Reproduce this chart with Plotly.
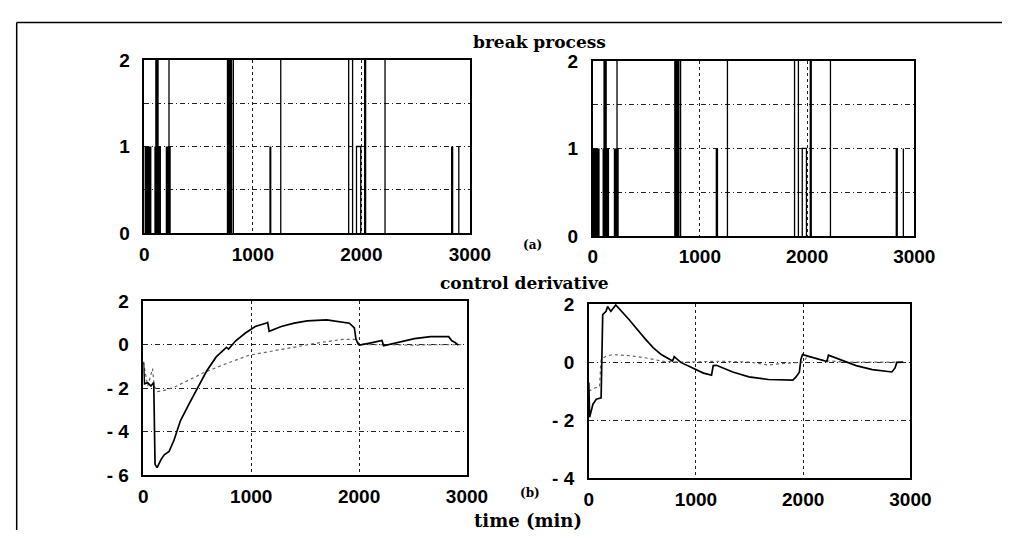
import plotly.graph_objects as go

W, H = 1023, 541

# ---------------- data ----------------
# break process: dense bursts of breaks (start, end, level)
burst_start = [0, 92, 100, 197, 760, 1155, 2024, 2826]
burst_end = [65, 153, 132, 243, 810, 1170, 2045, 2847]
burst_level = [1, 1, 2, 1, 2, 1, 2, 1]
# isolated single breaks (time, level)
spike_time = [227, 820, 1257, 1883, 1919, 2218, 2898]
spike_level = [2, 2, 2, 2, 2, 2, 1]
# sustained pulse (start, end, level)
pulse_start = [1955]
pulse_end = [1994]
pulse_level = [1]

x_ticks = [0, 1000, 2000, 3000]

# control derivative, left panel
left_solid_t = [0, 10, 40, 70, 96, 108, 127, 163, 193, 238, 283, 343, 419, 494, 585, 675, 750, 770, 790,
                856, 946, 1037, 1142, 1152, 1166, 1278, 1398, 1519, 1700, 1790, 1910, 1956, 1971, 1992,
                2005, 2122, 2212, 2227, 2363, 2513, 2664, 2830, 2860, 2890, 2920]
left_solid_y = [-0.78, -1.8, -1.75, -1.9, -1.74, -5.5, -5.65, -5.28, -5.06, -4.91, -4.4, -3.5, -2.77, -2.04,
                -1.22, -0.56, -0.19, -0.12, -0.2, 0.18, 0.54, 0.84, 1.0, 1.02, 0.62, 0.84, 0.99, 1.1, 1.14,
                1.09, 0.99, 0.77, 0.25, 0.03, -0.02, 0.1, 0.2, -0.05, 0.1, 0.28, 0.37, 0.37, 0.18, 0.1, -0.02]
left_dash_t = [0, 40, 85, 100, 130, 193, 283, 434, 554, 735, 976, 1218, 1459, 1640, 1851, 1971, 2000,
               2100, 2300, 2500, 2700, 2900, 2950]
left_dash_y = [-0.8, -1.9, -1.1, -1.9, -2.15, -2.1, -1.96, -1.6, -1.3, -0.93, -0.49, -0.27, -0.04, 0.1,
               0.25, 0.25, 0.05, 0.0, 0.0, -0.02, 0.0, 0.02, 0.0]

# control derivative, right panel
right_solid_t = [0, 8, 39, 70, 115, 130, 161, 176, 206, 252, 373, 450, 524, 600, 676, 782, 797, 858, 979,
                 1070, 1145, 1161, 1191, 1343, 1494, 1676, 1903, 1933, 1964, 1979, 1994, 2040, 2161, 2221,
                 2236, 2343, 2494, 2645, 2827, 2857, 2873, 2933]
right_solid_y = [-0.7, -1.9, -1.45, -1.28, -1.23, 1.64, 1.75, 1.92, 1.75, 1.97, 1.48, 1.12, 0.81, 0.5, 0.26,
                 0.04, 0.19, -0.01, -0.23, -0.38, -0.45, -0.12, -0.11, -0.34, -0.51, -0.6, -0.62, -0.51,
                 -0.35, 0.1, 0.26, 0.21, 0.1, 0.02, 0.24, 0.1, -0.12, -0.26, -0.34, -0.2, -0.01, 0.0]
right_dash_t = [0, 50, 100, 115, 161, 221, 388, 524, 706, 900, 1200, 1500, 1676, 1800, 2000, 2040, 2200,
                2400, 2900]
right_dash_y = [-1.0, -0.9, -0.85, 0.1, 0.2, 0.26, 0.22, 0.15, 0.02, 0.0, 0.03, 0.0, -0.1, -0.05, 0.0, 0.2,
                0.05, 0.0, 0.0]

# ---------------- figure ----------------
fig = go.Figure()


def px_dom(a, b, total, flip=False):
    if flip:
        return [1 - b / total, 1 - a / total]
    return [a / total, b / total]


panels = {
    1: dict(x=(143, 477), y=(52, 232)),
    2: dict(x=(603, 933), y=(53, 235)),
    3: dict(x=(142, 474), y=(303, 484)),
    4: dict(x=(599, 929), y=(306, 487)),
}


def ax_name(kind, i):
    return kind if i == 1 else f"{kind}{i}"


def ref(kind, i):
    return kind[0] if i == 1 else f"{kind[0]}{i}"


# break-process traces in panels 1 and 2
for i in (1, 2):
    xr, yr = ref("x", i), ref("y", i)
    fig.add_trace(go.Bar(
        x=[(s + e) / 2 for s, e in zip(burst_start, burst_end)],
        y=burst_level,
        width=[e - s for s, e in zip(burst_start, burst_end)],
        marker=dict(color="black", line=dict(width=0)),
        xaxis=xr, yaxis=yr, showlegend=False))
    sx, sy = [], []
    for t, lv in zip(spike_time, spike_level):
        sx += [t, t, None]
        sy += [0, lv, None]
    for s, e, lv in zip(pulse_start, pulse_end, pulse_level):
        sx += [s, s, e, e, None]
        sy += [0, lv, lv, 0, None]
    fig.add_trace(go.Scatter(x=sx, y=sy, mode="lines",
                             line=dict(color="black", width=1.3),
                             xaxis=xr, yaxis=yr, showlegend=False))

# control derivative traces
for i, (st, sy_, dt, dy) in ((3, (left_solid_t, left_solid_y, left_dash_t, left_dash_y)),
                             (4, (right_solid_t, right_solid_y, right_dash_t, right_dash_y))):
    xr, yr = ref("x", i), ref("y", i)
    fig.add_trace(go.Scatter(x=dt, y=dy, mode="lines",
                             line=dict(color="#666666", width=1.2, dash="dot"),
                             xaxis=xr, yaxis=yr, showlegend=False))
    fig.add_trace(go.Scatter(x=st, y=sy_, mode="lines",
                             line=dict(color="black", width=1.7),
                             xaxis=xr, yaxis=yr, showlegend=False))

tickfont = dict(family="Liberation Sans, Arial, sans-serif", size=19, color="black", weight="bold")

ycfg = {
    1: dict(range=[0, 2], tickvals=[0, 0.5, 1, 1.5, 2], ticktext=["0", "", "1", "", "2"]),
    2: dict(range=[0, 2], tickvals=[0, 0.5, 1, 1.5, 2], ticktext=["0", "", "1", "", "2"]),
    3: dict(range=[-6, 2], tickvals=[-6, -4, -2, 0, 2], ticktext=["- 6", "- 4", "- 2", "0", "2"]),
    4: dict(range=[-4, 2], tickvals=[-4, -2, 0, 2], ticktext=["- 4", "- 2", "0", "2"]),
}

layout = dict(
    width=W, height=H, margin=dict(l=0, r=0, t=0, b=0),
    paper_bgcolor="white", plot_bgcolor="white",
    barmode="overlay", showlegend=False,
)
for i, p in panels.items():
    layout[ax_name("xaxis", i)] = dict(
        domain=px_dom(*p["x"], W), anchor=ref("y", i),
        range=[0, 3000], tickvals=x_ticks, ticktext=[str(v) for v in x_ticks],
        showline=True, mirror=True, linecolor="black", linewidth=1.5,
        showgrid=True, gridcolor="#222222", gridwidth=1, griddash="dot",
        zeroline=False, ticks="", tickfont=tickfont, ticklabelstandoff=3,
    )
    layout[ax_name("yaxis", i)] = dict(
        domain=px_dom(*p["y"], H, flip=True), anchor=ref("x", i),
        showline=True, mirror=True, linecolor="black", linewidth=1.5,
        showgrid=True, gridcolor="#222222", gridwidth=1, griddash="5px,3px,1px,3px",
        zeroline=False, ticks="", tickfont=tickfont, ticklabelstandoff=9,
        **ycfg[i],
    )

serif = dict(family="DejaVu Serif, serif", color="black", weight="bold")
annotations = [
    dict(text="break process", x=548 / W, y=1 - 33 / H, font=dict(size=17, **serif)),
    dict(text="(a)", x=541 / W, y=1 - 245 / H, font=dict(size=12, **serif)),
    dict(text="control derivative", x=533 / W, y=1 - 284 / H, font=dict(size=17, **serif)),
    dict(text="(b)", x=539 / W, y=1 - 502 / H, font=dict(size=12, **serif)),
    dict(text="time (min)", x=537 / W, y=1 - 531 / H, font=dict(size=18, **serif)),
]
for a in annotations:
    a.update(xref="paper", yref="paper", showarrow=False, xanchor="center", yanchor="middle")
layout["annotations"] = annotations

layout["shapes"] = [
    dict(type="line", xref="paper", yref="paper", x0=12 / W, x1=1.0, y0=1 - 13 / H, y1=1 - 13 / H,
         line=dict(color="black", width=1.5)),
    dict(type="line", xref="paper", yref="paper", x0=12 / W, x1=12 / W, y0=1 - 13 / H, y1=0,
         line=dict(color="black", width=1.5)),
]

fig.update_layout(**layout)

fig.write_html("out.html", config={"displayModeBar": False},
               post_script="document.body.style.margin='0';document.body.style.overflow='hidden';")
